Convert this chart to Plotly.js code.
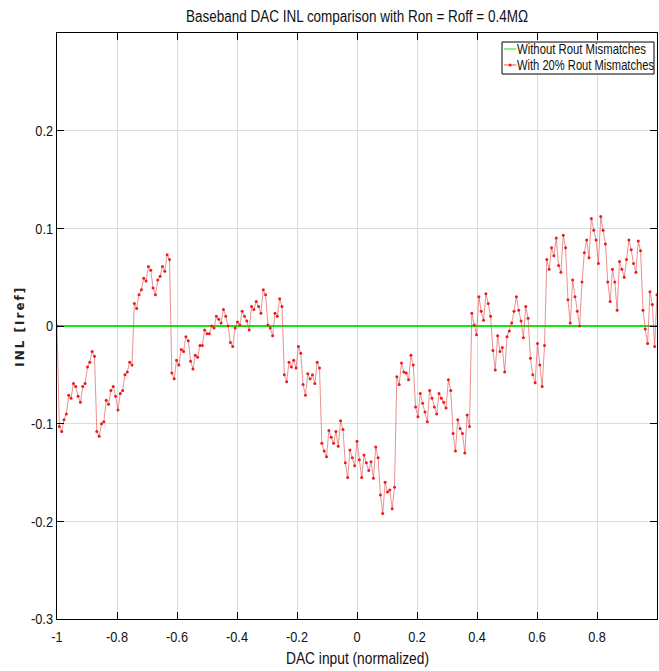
<!DOCTYPE html>
<html>
<head>
<meta charset="utf-8">
<script src="https://cdn.plot.ly/plotly-3.0.1.min.js"></script>
<style>
  html, body { margin: 0; padding: 0; background: #fff; }
  #chart { width: 659px; height: 671px; }
</style>
</head>
<body>
<div id="chart"></div>
<script>
// INL of the 8-bit baseband DAC, one array per 16-code MSB segment (units of Iref)
const seg01 = [-0.103, -0.108, -0.096, -0.090, -0.071, -0.074, -0.059, -0.062, -0.072, -0.078, -0.062, -0.059, -0.042, -0.037, -0.026, -0.031];
const seg02 = [-0.108, -0.113, -0.100, -0.098, -0.076, -0.080, -0.066, -0.062, -0.072, -0.086, -0.069, -0.066, -0.050, -0.047, -0.037, -0.040];
const seg03 = [0.023, 0.018, 0.032, 0.037, 0.049, 0.046, 0.061, 0.057, 0.039, 0.032, 0.047, 0.051, 0.061, 0.056, 0.073, 0.068];
const seg04 = [-0.048, -0.054, -0.035, -0.040, -0.024, -0.026, -0.011, -0.015, -0.036, -0.044, -0.030, -0.032, -0.020, -0.020, -0.004, -0.008];
const seg05 = [-0.008, 0.000, -0.002, 0.010, 0.007, 0.003, 0.017, 0.010, 0.000, -0.017, -0.021, -0.002, 0.004, 0.001, 0.015, 0.010];
const seg06 = [0.005, -0.004, 0.020, 0.017, 0.025, 0.020, 0.013, 0.037, 0.032, 0.001, -0.002, -0.010, 0.013, 0.010, 0.028, 0.020];
const seg07 = [-0.050, -0.057, -0.037, -0.042, -0.035, -0.043, -0.021, -0.028, -0.060, -0.071, -0.049, -0.054, -0.050, -0.059, -0.037, -0.043];
const seg08 = [-0.120, -0.128, -0.134, -0.107, -0.114, -0.120, -0.108, -0.123, -0.097, -0.106, -0.140, -0.155, -0.127, -0.135, -0.143, -0.118];
const seg09 = [-0.137, -0.155, -0.132, -0.140, -0.148, -0.139, -0.156, -0.124, -0.135, -0.173, -0.192, -0.160, -0.170, -0.168, -0.187, -0.165];
const seg10 = [-0.052, -0.060, -0.038, -0.047, -0.048, -0.055, -0.030, -0.040, -0.083, -0.093, -0.069, -0.079, -0.088, -0.098, -0.066, -0.074];
const seg11 = [-0.083, -0.090, -0.069, -0.074, -0.078, -0.084, -0.055, -0.066, -0.110, -0.128, -0.096, -0.105, -0.110, -0.130, -0.091, -0.103];
const seg12 = [0.013, 0.001, -0.009, 0.030, 0.015, 0.006, 0.033, 0.023, 0.010, -0.025, -0.045, -0.010, -0.026, -0.022, -0.047, -0.011];
const seg13 = [-0.005, 0.003, 0.015, 0.030, 0.016, 0.005, -0.012, 0.020, 0.008, -0.033, -0.050, -0.058, -0.018, -0.040, -0.062, -0.020];
const seg14 = [0.068, 0.058, 0.080, 0.072, 0.090, 0.062, 0.055, 0.093, 0.080, 0.027, 0.003, 0.047, 0.030, 0.015, 0.000, 0.045];
const seg15 = [0.075, 0.088, 0.070, 0.110, 0.098, 0.088, 0.064, 0.112, 0.098, 0.084, 0.045, 0.025, 0.058, 0.045, 0.016, 0.066];
const seg16 = [0.058, 0.050, 0.068, 0.088, 0.078, 0.064, 0.055, 0.087, 0.077, 0.016, -0.003, -0.018, 0.035, 0.022, -0.021, 0.032];

// code 0 is the zero-scale reference point
const zeroCodeInl = [0];

// ideal (matched) output resistance: flat INL
const idealX = [-1, 1];
const idealInl = [0, 0];

const xTickVals = [-1, -0.8, -0.6, -0.4, -0.2, 0, 0.2, 0.4, 0.6, 0.8, 1];
const xTickText = ['-1', '-0.8', '-0.6', '-0.4', '-0.2', '0', '0.2', '0.4', '0.6', '0.8', '1'];
const yTickVals = [-0.3, -0.2, -0.1, 0, 0.1, 0.2];
const yTickText = ['-0.3', '-0.2', '-0.1', '0', '0.1', '0.2'];

const seriesNames = ['Without Rout Mismatches', 'With 20% Rout Mismatches'];

// assemble the mismatch INL over all codes and map code index to normalized input
const mismatchInl = zeroCodeInl.concat(seg01, seg02, seg03, seg04, seg05, seg06, seg07, seg08,
                                       seg09, seg10, seg11, seg12, seg13, seg14, seg15, seg16);
const nCodes = mismatchInl.length - 1;
const mismatchX = mismatchInl.map((_, k) => -1 + 2 * k / nCodes);

const sans = '"Liberation Sans", Arial, sans-serif';
const txt = (size) => ({ family: sans, size: size, color: '#111' });

const traces = [
  {
    x: idealX, y: idealInl, type: 'scatter', mode: 'lines',
    name: seriesNames[0], showlegend: false,
    line: { color: '#12e612', width: 2 }
  },
  {
    x: mismatchX, y: mismatchInl, type: 'scatter', mode: 'lines+markers',
    name: seriesNames[1], showlegend: false,
    line: { color: 'rgba(222,70,70,0.75)', width: 0.8 },
    marker: { color: '#ec1c1c', size: 3 }
  }
];

const axisCommon = {
  showline: true, linecolor: '#000', linewidth: 1, mirror: 'ticks',
  ticks: 'inside', ticklen: 7, tickcolor: '#000', tickwidth: 1,
  showgrid: true, gridcolor: '#dcdcdc', gridwidth: 1,
  zeroline: false, tickmode: 'array',
  tickfont: txt(15)
};

// legend drawn in paper coordinates at the upper right of the axes
const legX0 = 0.7417, legX1 = 0.995, legY0 = 0.930, legY1 = 0.9846;
const rowY = [0.9727, 0.9454];
const lineX0 = 0.745, lineX1 = 0.7655;
// legend label centres (paper x) and their condensed widths in px
const legTextX = [0.8742, 0.8808];
const legTextW = [129, 137];
const xLabelW = 143;
const titleW = 342;

const shapes = [
  { type: 'rect', xref: 'paper', yref: 'paper', x0: legX0, x1: legX1, y0: legY0, y1: legY1,
    line: { color: '#000', width: 1 }, fillcolor: '#fff', layer: 'above' },
  { type: 'line', xref: 'paper', yref: 'paper', x0: lineX0, x1: lineX1, y0: rowY[0], y1: rowY[0],
    line: { color: '#12e612', width: 1 }, layer: 'above' },
  { type: 'line', xref: 'paper', yref: 'paper', x0: lineX0, x1: lineX1, y0: rowY[1], y1: rowY[1],
    line: { color: 'rgba(222,70,70,0.9)', width: 1 }, layer: 'above' },
  { type: 'circle', xref: 'paper', yref: 'paper',
    x0: (lineX0 + lineX1) / 2 - 0.0025, x1: (lineX0 + lineX1) / 2 + 0.0025,
    y0: rowY[1] - 0.0026, y1: rowY[1] + 0.0026,
    line: { color: '#ec1c1c', width: 0 }, fillcolor: '#ec1c1c', layer: 'above' }
];

const annotations = [
  { xref: 'paper', yref: 'paper', x: legTextX[0], y: rowY[0], xanchor: 'center', yanchor: 'middle',
    width: legTextW[0] + 2, borderpad: 0,
    text: seriesNames[0], showarrow: false, font: txt(14) },
  { xref: 'paper', yref: 'paper', x: legTextX[1], y: rowY[1], xanchor: 'center', yanchor: 'middle',
    width: legTextW[1] + 2, borderpad: 0,
    text: seriesNames[1], showarrow: false, font: txt(14) },
  { xref: 'paper', yref: 'paper', x: 0.5, y: -0.068, xanchor: 'center', yanchor: 'middle',
    width: xLabelW + 4,
    text: 'DAC input (normalized)', showarrow: false, font: txt(17) },
  { xref: 'paper', yref: 'paper', x: -0.062, y: 0.5, xanchor: 'center', yanchor: 'middle', textangle: -90,
    text: '<span style="letter-spacing:2px">INL [Iref]</span>', showarrow: false,
    font: { family: '"DejaVu Sans", sans-serif', size: 12, color: '#222', weight: 'bold' } }
];

const layout = {
  width: 659, height: 671,
  margin: { l: 57, r: 2, t: 33, b: 52 },
  paper_bgcolor: '#fff', plot_bgcolor: '#fff',
  title: {
    text: 'Baseband DAC INL comparison with Ron = Roff = 0.4MΩ',
    xref: 'paper', x: 0.5, xanchor: 'center',
    yref: 'container', y: 0.976, yanchor: 'middle',
    font: txt(16)
  },
  xaxis: Object.assign({}, axisCommon, {
    range: [-1, 1], tickvals: xTickVals, ticktext: xTickText, ticklabelstandoff: 4
  }),
  yaxis: Object.assign({}, axisCommon, {
    range: [-0.3, 0.3], tickvals: yTickVals, ticktext: yTickText
  }),
  showlegend: false,
  shapes: shapes,
  annotations: annotations
};

// squeeze a text element horizontally to give it a condensed look
function condense(el, factor, width) {
  const len = el.getComputedTextLength();
  if (!len) return;
  el.setAttribute('textLength', (width || len * factor).toFixed(1));
  el.setAttribute('lengthAdjust', 'spacingAndGlyphs');
}

Plotly.newPlot('chart', traces, layout, { displayModeBar: false, staticPlot: true }).then(gd => {
  gd.querySelectorAll('.xtick text, .ytick text').forEach(el => condense(el, 0.85));
  gd.querySelectorAll('.gtitle').forEach(el => condense(el, 0, titleW));
  const ann = gd.querySelectorAll('.annotation-text');
  const widths = [legTextW[0], legTextW[1], xLabelW];
  ann.forEach((el, i) => { if (i < 3) condense(el, 0, widths[i]); });
});
</script>
</body>
</html>
